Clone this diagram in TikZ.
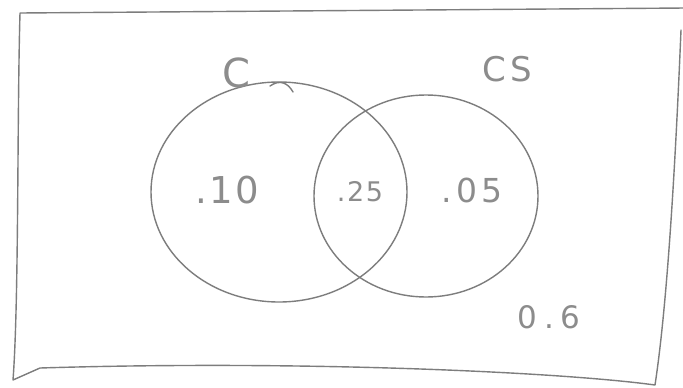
\documentclass[tikz,border=0pt]{standalone}
\usepackage{fontspec}
\setmainfont{DejaVu Sans}
\definecolor{pen}{RGB}{125,125,125}
\definecolor{ink}{RGB}{140,140,140}
\begin{document}
\begin{tikzpicture}[x=1pt,y=-1pt,
  pencil/.style={draw=pen,line width=1.4pt,line cap=round,line join=round},
  lbl/.style={text=ink,inner sep=0pt}]
\useasboundingbox[fill=white] (0,0) rectangle (683,388);
% frame
\coordinate (tl) at (20,13);
\coordinate (tr) at (686,8);
\coordinate (br) at (655,385);
\coordinate (bl) at (13,380);
\draw[pencil] (bl) .. controls (19,300) and (17,120) .. (tl)
  -- (tr)
  (br) .. controls (668,300) and (676,150) .. (681,30)
  (br) .. controls (560,372) and (300,360) .. (40,368) -- (bl);
% left circle C
\coordinate (cc) at (279,192);
\draw[pencil] (cc) ellipse [x radius=128, y radius=110];
\coordinate (ctail) at (293,92);
\draw[pencil] (270,86) .. controls (280,79) and (288,83) .. (ctail);
% right circle CS
\coordinate (csc) at (426,196);
\draw[pencil] (csc) ellipse [x radius=112, y radius=101];
% labels
\node[lbl,font=\fontsize{40}{42}\selectfont] (lc) at (236,73) {C};
\node[lbl,font=\fontsize{34}{36}\selectfont\addfontfeature{LetterSpace=12}] (lcs) at (507,69) {CS};
\node[lbl,font=\fontsize{37}{40}\selectfont\addfontfeature{LetterSpace=6}] (v1) at (227,190) {.10};
\node[lbl,font=\fontsize{27}{30}\selectfont\addfontfeature{LetterSpace=6}] (v2) at (360,192) {.25};
\node[lbl,font=\fontsize{33}{36}\selectfont\addfontfeature{LetterSpace=14}] (v3) at (472,190) {.05};
\node[lbl,font=\fontsize{31}{34}\selectfont\addfontfeature{LetterSpace=22}] (v4) at (549,317) {0.6};
\end{tikzpicture}
\end{document}
